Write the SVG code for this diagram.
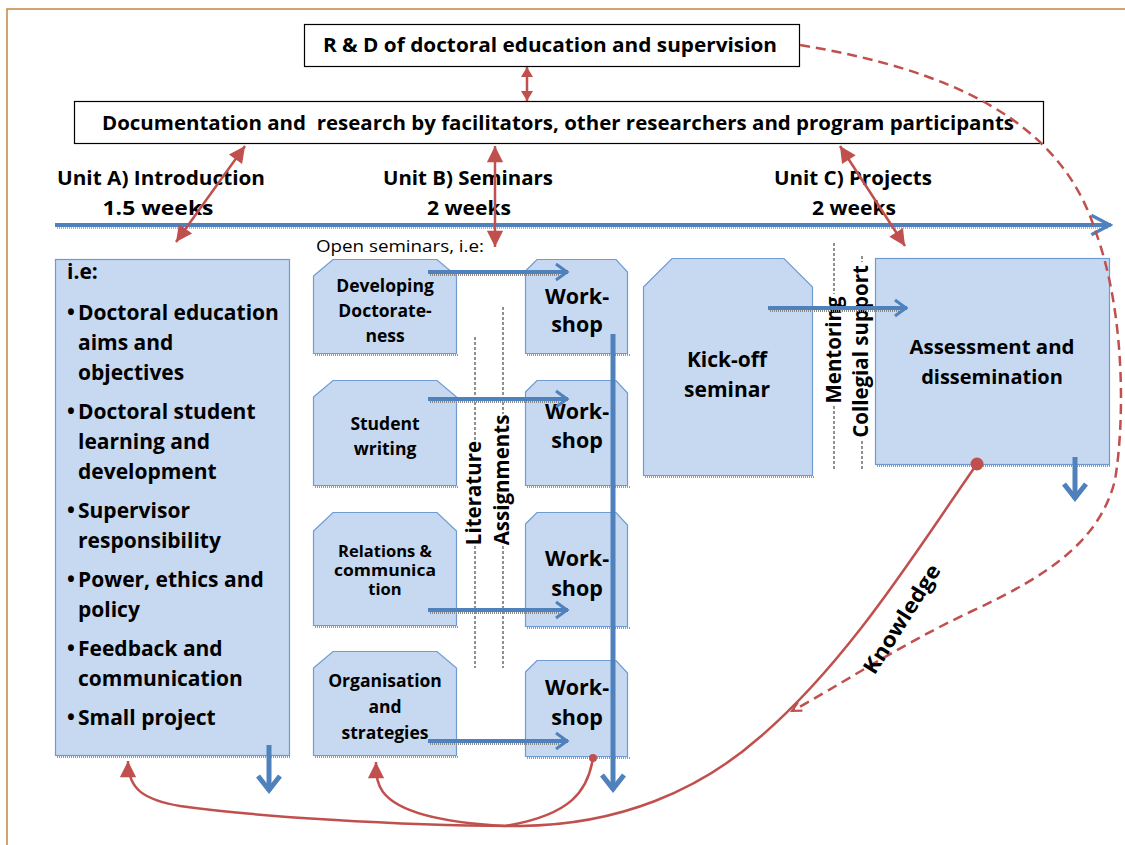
<svg xmlns="http://www.w3.org/2000/svg" width="1125" height="845" viewBox="0 0 1125 845">
<style>
.t{font-family:"Open Sans","Liberation Sans",sans-serif;font-weight:700;fill:#000}
.r{font-family:"Open Sans","Liberation Sans",sans-serif;font-weight:400;fill:#000}
.box{fill:#c6d9f1;stroke:#6f9bd2;stroke-width:1.2}
.wbox{fill:#fff;stroke:#000;stroke-width:1.2}
.sh{stroke:#9a9a9a;stroke-width:2;stroke-dasharray:1 1;fill:none}
.red{stroke:#c0504d;stroke-width:2.5;fill:none}
.blue{stroke:#4f81bd;fill:none}
.dl{stroke:#222;stroke-width:1;stroke-dasharray:3 2;fill:none}
</style>
<defs>
<marker id="rh" markerUnits="userSpaceOnUse" markerWidth="20" markerHeight="20" viewBox="-14 -8 16 16" refX="0" refY="0" orient="auto-start-reverse"><path d="M0,0 L-13,-6.5 L-13,6.5 Z" fill="#c0504d"/></marker>
<marker id="rh2" markerUnits="userSpaceOnUse" markerWidth="16" markerHeight="16" viewBox="-12 -8 14 16" refX="0" refY="0" orient="auto-start-reverse"><path d="M0,0 L-10,-6 L-10,6 Z" fill="#c0504d"/></marker>
<marker id="rs" markerUnits="userSpaceOnUse" markerWidth="14" markerHeight="14" viewBox="-10 -6 12 12" refX="0" refY="0" orient="auto"><path d="M-8,-4 L0,0 L-8,4" fill="none" stroke="#c0504d" stroke-width="1.8"/></marker>
<marker id="bc" markerUnits="userSpaceOnUse" markerWidth="30" markerHeight="30" viewBox="-20 -15 24 30" refX="0" refY="0" orient="auto"><path d="M-15,-11 L-1,0 L-15,11" fill="none" stroke="#4f81bd" stroke-width="5"/></marker>
<marker id="bs" markerUnits="userSpaceOnUse" markerWidth="20" markerHeight="20" viewBox="-14 -10 16 20" refX="0" refY="0" orient="auto"><path d="M-12,-8 L-1,0 L-12,8" fill="none" stroke="#4f81bd" stroke-width="3"/></marker>
<marker id="bt" markerUnits="userSpaceOnUse" markerWidth="24" markerHeight="24" viewBox="-20 -11 22 22" refX="0" refY="0" orient="auto"><path d="M-18,-9 L-1,0 L-18,9" fill="none" stroke="#4f81bd" stroke-width="3"/></marker>
</defs>
<rect width="1125" height="845" fill="#fff"/>
<path d="M7,845 L7,9 L1125,9" fill="none" stroke="#c8873c" stroke-width="1.5"/>

<g id="rd">
<rect class="wbox" x="304.5" y="24.5" width="495" height="42"/>
<text class="t" x="323" y="52" font-size="19" textLength="454" lengthAdjust="spacingAndGlyphs">R &amp; D of doctoral education and supervision</text>
</g>
<g id="doc">
<rect class="wbox" x="74.5" y="101.5" width="969" height="42"/>
<text class="t" x="102" y="130" font-size="19" textLength="912" lengthAdjust="spacingAndGlyphs" xml:space="preserve">Documentation and  research by facilitators, other researchers and program participants</text>
</g>

<g id="headers">
<text class="t" x="161" y="185" font-size="20" text-anchor="middle" textLength="208" lengthAdjust="spacingAndGlyphs">Unit A) Introduction</text>
<text class="t" x="158" y="215" font-size="20" text-anchor="middle" textLength="111" lengthAdjust="spacingAndGlyphs">1.5 weeks</text>
<text class="t" x="468" y="185" font-size="20" text-anchor="middle" textLength="170" lengthAdjust="spacingAndGlyphs">Unit B) Seminars</text>
<text class="t" x="469" y="215" font-size="20" text-anchor="middle" textLength="84" lengthAdjust="spacingAndGlyphs">2 weeks</text>
<text class="t" x="853" y="185" font-size="20" text-anchor="middle" textLength="158" lengthAdjust="spacingAndGlyphs">Unit C) Projects</text>
<text class="t" x="854" y="215" font-size="20" text-anchor="middle" textLength="84" lengthAdjust="spacingAndGlyphs">2 weeks</text>
<text class="r" x="316" y="252" font-size="16" textLength="168" lengthAdjust="spacingAndGlyphs">Open seminars, i.e:</text>
</g>

<g id="unitA">
<line class="sh" x1="57" y1="757" x2="291" y2="757"/>
<rect class="box" x="55.5" y="259.5" width="234" height="496"/>
<g class="t" font-size="21">
<text x="67" y="279">i.e:</text>
<text x="67" y="320">•</text><text x="78" y="320">Doctoral education</text>
<text x="78" y="350">aims and</text>
<text x="78" y="380">objectives</text>
<text x="67" y="419">•</text><text x="78" y="419">Doctoral student</text>
<text x="78" y="449">learning and</text>
<text x="78" y="479">development</text>
<text x="67" y="518">•</text><text x="78" y="518">Supervisor</text>
<text x="78" y="548">responsibility</text>
<text x="67" y="587">•</text><text x="78" y="587">Power, ethics and</text>
<text x="78" y="617">policy</text>
<text x="67" y="656">•</text><text x="78" y="656">Feedback and</text>
<text x="78" y="686">communication</text>
<text x="67" y="725">•</text><text x="78" y="725">Small project</text>
</g>
</g>

<g id="sem1">
<line class="sh" x1="315" y1="355" x2="459" y2="355"/>
<path class="box" d="M313.5,276 L333,259.5 L437,259.5 L456.5,276 L456.5,353.5 L313.5,353.5 Z"/>
<text class="t" font-size="17.5" text-anchor="middle"><tspan x="385" y="292">Developing</tspan><tspan x="385" y="317">Doctorate-</tspan><tspan x="385" y="342">ness</tspan></text>
</g>
<g id="sem2">
<line class="sh" x1="315" y1="487" x2="459" y2="487"/>
<path class="box" d="M313.5,397 L333,380.5 L437,380.5 L456.5,397 L456.5,485.5 L313.5,485.5 Z"/>
<text class="t" font-size="17.5" text-anchor="middle"><tspan x="385" y="430">Student</tspan><tspan x="385" y="455">writing</tspan></text>
</g>
<g id="sem3">
<line class="sh" x1="315" y1="627" x2="459" y2="627"/>
<path class="box" d="M313.5,531 L333,512.5 L437,512.5 L456.5,531 L456.5,625.5 L313.5,625.5 Z"/>
<text class="t" font-size="16.5" text-anchor="middle"><tspan x="385" y="557">Relations &amp;</tspan><tspan x="385" y="576" textLength="102" lengthAdjust="spacingAndGlyphs">communica</tspan><tspan x="385" y="595">tion</tspan></text>
</g>
<g id="sem4">
<line class="sh" x1="315" y1="757" x2="459" y2="757"/>
<path class="box" d="M313.5,668 L333,651.5 L437,651.5 L456.5,668 L456.5,755.5 L313.5,755.5 Z"/>
<text class="t" font-size="17.5" text-anchor="middle"><tspan x="385" y="687">Organisation</tspan><tspan x="385" y="713">and</tspan><tspan x="385" y="739">strategies</tspan></text>
</g>

<g id="ws1">
<line class="sh" x1="527" y1="355" x2="630" y2="355"/>
<path class="box" d="M525.5,271 L537,259.5 L616,259.5 L627.5,272 L627.5,353.5 L525.5,353.5 Z"/>
<text class="t" font-size="21.5" text-anchor="middle"><tspan x="577" y="304">Work-</tspan><tspan x="577" y="332">shop</tspan></text>
</g>
<g id="ws2">
<line class="sh" x1="527" y1="487" x2="630" y2="487"/>
<path class="box" d="M525.5,392 L537,380.5 L616,380.5 L627.5,393 L627.5,485.5 L525.5,485.5 Z"/>
<text class="t" font-size="21.5" text-anchor="middle"><tspan x="577" y="419">Work-</tspan><tspan x="577" y="448">shop</tspan></text>
</g>
<g id="ws3">
<line class="sh" x1="527" y1="628" x2="630" y2="628"/>
<path class="box" d="M525.5,524 L537,512.5 L616,512.5 L627.5,525 L627.5,626.5 L525.5,626.5 Z"/>
<text class="t" font-size="21.5" text-anchor="middle"><tspan x="577" y="566">Work-</tspan><tspan x="577" y="596">shop</tspan></text>
</g>
<g id="ws4">
<line class="sh" x1="527" y1="758" x2="630" y2="758"/>
<path class="box" d="M525.5,672 L537,660.5 L616,660.5 L627.5,673 L627.5,756.5 L525.5,756.5 Z"/>
<text class="t" font-size="21.5" text-anchor="middle"><tspan x="577" y="695">Work-</tspan><tspan x="577" y="725">shop</tspan></text>
</g>

<g id="kickoff">
<line class="sh" x1="645" y1="477" x2="815" y2="477"/>
<path class="box" d="M643.5,287 L672,258.5 L784,258.5 L812.5,287 L812.5,475.5 L643.5,475.5 Z"/>
<text class="t" font-size="21" text-anchor="middle"><tspan x="727" y="367">Kick-off</tspan><tspan x="727" y="397">seminar</tspan></text>
</g>
<g id="assessment">
<line class="sh" x1="877" y1="466" x2="1111" y2="466"/>
<rect class="box" x="875.5" y="258.5" width="234" height="206"/>
<text class="t" font-size="20" text-anchor="middle"><tspan x="992" y="354" textLength="165" lengthAdjust="spacingAndGlyphs">Assessment and</tspan><tspan x="992" y="384">dissemination</tspan></text>
</g>

<g id="side-labels">
<path class="dl" d="M475,337 V440 M475,546 V668"/>
<text class="t" font-size="20.5" text-anchor="middle" transform="translate(480.5,493) rotate(-90)">Literature</text>
<path class="dl" d="M503,307 V414 M503,546 V668"/>
<text class="t" font-size="20.5" text-anchor="middle" transform="translate(508.5,480) rotate(-90)">Assignments</text>
<path class="dl" d="M834,243 V294 M834,406 V470"/>
<text class="t" font-size="20.5" text-anchor="middle" transform="translate(841,350) rotate(-90)">Mentoring</text>
<path class="dl" d="M862,256 V262 M862,441 V470"/>
<text class="t" font-size="20.5" text-anchor="middle" transform="translate(867.5,351.5) rotate(-90)">Collegial support</text>
</g>

<g id="connectors">
<line x1="57" y1="228" x2="1108" y2="228" stroke="#9a9a9a" stroke-width="1.5" stroke-dasharray="1 1"/>
<line class="blue" x1="55" y1="225" x2="1111" y2="225" stroke-width="4" marker-end="url(#bt)"/>
<line class="red" x1="527" y1="67" x2="527" y2="101" marker-start="url(#rh2)" marker-end="url(#rh2)"/>
<line class="red" x1="245" y1="146" x2="176" y2="242" marker-start="url(#rh)" marker-end="url(#rh)"/>
<line class="red" x1="495" y1="146" x2="495" y2="247" marker-start="url(#rh)" marker-end="url(#rh)"/>
<line class="red" x1="840" y1="146" x2="905" y2="246" marker-start="url(#rh)" marker-end="url(#rh)"/>
<path class="red" stroke-dasharray="10 6" d="M800,45 C950,70 1060,120 1095,230 C1125,310 1125,420 1115,480 C1100,540 1050,575 970,612 C900,645 840,685 792,711" marker-end="url(#rs)"/>
<g stroke="#8a8a8a" stroke-width="2" stroke-dasharray="1 1">
<line x1="430" y1="275" x2="560" y2="275"/>
<line x1="430" y1="402" x2="560" y2="402"/>
<line x1="430" y1="613" x2="560" y2="613"/>
<line x1="430" y1="744" x2="560" y2="744"/>
<line x1="770" y1="311" x2="900" y2="311"/>
</g>
<g class="blue" stroke-width="4">
<line x1="428" y1="272" x2="568" y2="272" marker-end="url(#bs)"/>
<line x1="428" y1="399" x2="568" y2="399" marker-end="url(#bs)"/>
<line x1="428" y1="610" x2="568" y2="610" marker-end="url(#bs)"/>
<line x1="428" y1="741" x2="568" y2="741" marker-end="url(#bs)"/>
<line x1="768" y1="308" x2="907" y2="308" marker-end="url(#bs)"/>
</g>
<g class="blue" stroke-width="5">
<line x1="613" y1="334" x2="613" y2="790" marker-end="url(#bc)"/>
<line x1="269" y1="745" x2="269" y2="791" marker-end="url(#bc)"/>
<line x1="1075" y1="457" x2="1075" y2="499" marker-end="url(#bc)"/>
</g>
<path class="red" d="M977,464 C920,545 850,660 760,737 C700,790 620,825 520,826 C400,826 250,816 180,806 C145,800 128,790 128,761" marker-end="url(#rh)"/>
<path class="red" d="M505,826 C430,822 395,808 383,792 C378,785 376,778 376,762" marker-end="url(#rh)"/>
<path class="red" d="M593,758 C588,790 572,815 505,826"/>
<circle cx="977" cy="464" r="6.5" fill="#c0504d"/>
<circle cx="593" cy="758" r="4" fill="#c0504d"/>
<text class="t" font-size="21" text-anchor="middle" textLength="125" lengthAdjust="spacingAndGlyphs" transform="translate(908,623) rotate(-57.7)">Knowledge</text>
</g>
</svg>
